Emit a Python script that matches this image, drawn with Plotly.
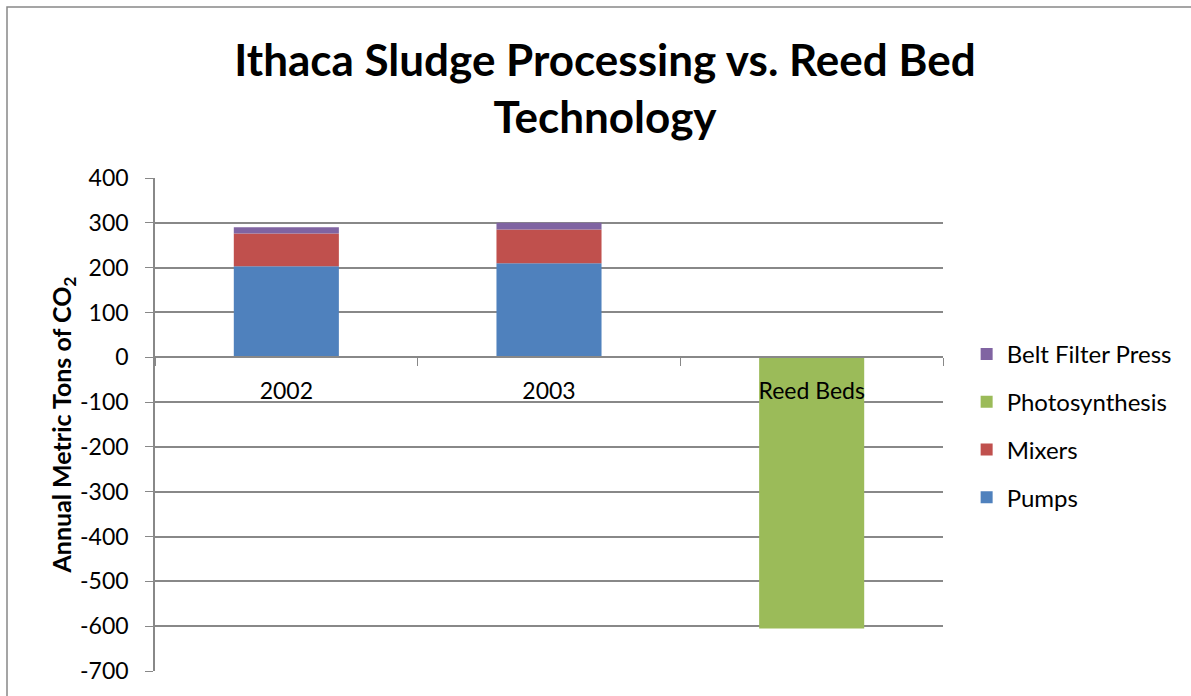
import plotly.graph_objects as go

categories = ["2002", "2003", "Reed Beds"]
pumps = [203, 210, None]
mixers = [73, 75, None]
photosynthesis = [None, None, -605]
belt_filter_press = [14, 15, None]
y_ticks = [400, 300, 200, 100, 0, -100, -200, -300, -400, -500, -600, -700]
y_tick_text = ["400", "300", "200", "100", "0", "-100", "-200", "-300", "-400", "-500", "-600", "-700"]

FONT = "Lato, 'Open Sans', sans-serif"
GRID = "#888888"

fig = go.Figure()
series = [
    ("Pumps", pumps, "#4F81BD", 4),
    ("Mixers", mixers, "#C0504D", 3),
    ("Photosynthesis", photosynthesis, "#9BBB59", 2),
    ("Belt Filter Press", belt_filter_press, "#8064A2", 1),
]
for name, vals, col, rank in series:
    fig.add_trace(go.Bar(x=categories, y=vals, name=name, marker=dict(color=col, line=dict(width=0)),
                         legendgroup=name, legendrank=rank))

ymin, ymax = -700, 400
fig.update_layout(
    width=1191, height=696,
    barmode="relative", bargap=0.6,
    paper_bgcolor="white", plot_bgcolor="white",
    margin=dict(l=155, r=248, t=178, b=25),
    font=dict(family=FONT, size=23, color="black"),
    title=dict(text="<b>Ithaca Sludge Processing vs. Reed Bed<br>Technology</b>",
               x=605 / 1191, xanchor="center", y=1 - 76 / 696, yanchor="middle",
               font=dict(family=FONT, size=44, color="black")),
    legend=dict(x=1.03, xanchor="left", y=0.497, yanchor="middle",
                tracegroupgap=13.5, font=dict(size=24, family=FONT), itemwidth=30),
    showlegend=True,
)
fig.update_yaxes(range=[ymin, ymax], tickvals=y_ticks, ticktext=y_tick_text, showgrid=True,
                 gridcolor=GRID, gridwidth=1.5,
                 showline=True, linecolor=GRID, linewidth=1.5, ticks="outside", ticklen=8,
                 tickcolor=GRID, zeroline=False, ticklabelstandoff=12,
                 title=dict(text="<b>Annual Metric Tons of CO<sub>2</sub></b>", font=dict(size=25), standoff=0))
fig.update_xaxes(anchor="free", position=(0 - ymin) / (ymax - ymin), showline=True, linecolor=GRID,
                 linewidth=1.5, ticks="outside", tickson="boundaries", ticklen=8, tickcolor=GRID,
                 ticklabelstandoff=13, showgrid=False)

fig.add_shape(type="rect", xref="paper", yref="paper",
              x0=(7 - 155) / 788, x1=1.6, y0=-0.3, y1=1 + (178 - 7) / 493,
              line=dict(color="#888888", width=1.5), fillcolor="rgba(0,0,0,0)", layer="below")

fig.write_html("out.html", config={"displayModeBar": False},
               post_script="document.body.style.margin='0';")
